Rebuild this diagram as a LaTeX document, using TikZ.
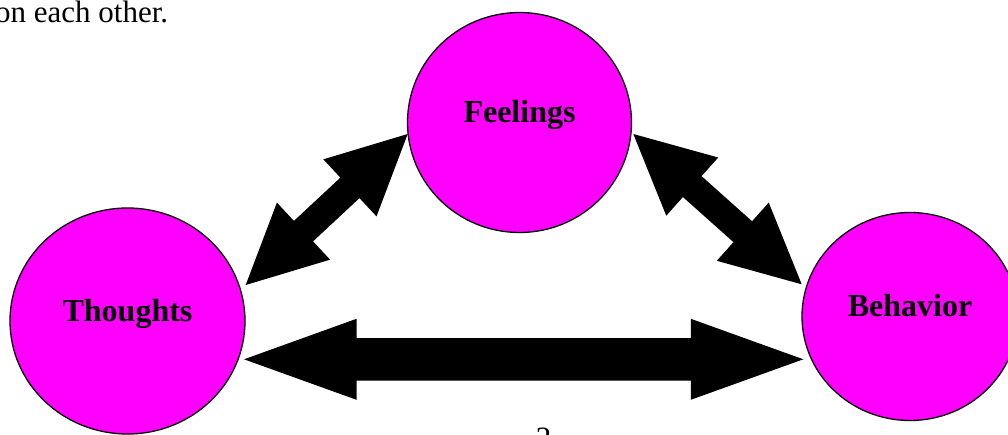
\documentclass[tikz,border=0pt]{standalone}
\usepackage{fontspec}
\setmainfont{Liberation Serif}
\usetikzlibrary{shapes.geometric,calc}
\definecolor{mag}{HTML}{FF00FF}
\newcommand\blockarrow[5]{%
  \fill[black] (#1) -- ($(#1)!#3!(#2)!#4!90:(#2)$) -- ($(#1)!#3!(#2)!#5!90:(#2)$)
   -- ($(#2)!#3!(#1)!#5!-90:(#1)$) -- ($(#2)!#3!(#1)!#4!-90:(#1)$) -- (#2)
   -- ($(#2)!#3!(#1)!#4!90:(#1)$) -- ($(#2)!#3!(#1)!#5!90:(#1)$)
   -- ($(#1)!#3!(#2)!#5!-90:(#2)$) -- ($(#1)!#3!(#2)!#4!-90:(#2)$) -- cycle;}
\begin{document}
\begin{tikzpicture}[x=1pt,y=-1pt,
  circ/.style={ellipse, draw=black, line width=1.3pt, fill=mag, inner sep=0pt,
    text height=0pt, text depth=0pt, font=\fontsize{32}{38}\selectfont\bfseries},
  plain/.style={inner sep=0pt, font=\fontsize{31}{37}\selectfont}]
\useasboundingbox (0,0) rectangle (1008,435);
\node[circ, minimum width=224pt, minimum height=220pt] (feel) at (519.5,122.5) {Feelings};
\node[circ, minimum width=235pt, minimum height=226pt] (thought) at (127.5,321) {Thoughts};
\node[circ, minimum width=216pt, minimum height=208pt] (behav) at (910,316.5) {Behavior};
\node[plain, anchor=base west] (top) at (-5,22.7) {on each other.};
\node[plain, anchor=base] (pg) at (543.7,448) {2};
\coordinate (hL) at (244,359.3);
\coordinate (hR) at (803.3,359.3);
\coordinate (dLa) at (245.7,285);
\coordinate (dLb) at (407.7,134);
\coordinate (dRa) at (633.3,134);
\coordinate (dRb) at (801.7,284.3);
\blockarrow{hL}{hR}{112.5pt}{40.5pt}{21.2pt}
\blockarrow{dLa}{dLb}{79pt}{39pt}{14pt}
\blockarrow{dRa}{dRb}{79pt}{39pt}{14pt}
\end{tikzpicture}
\end{document}
